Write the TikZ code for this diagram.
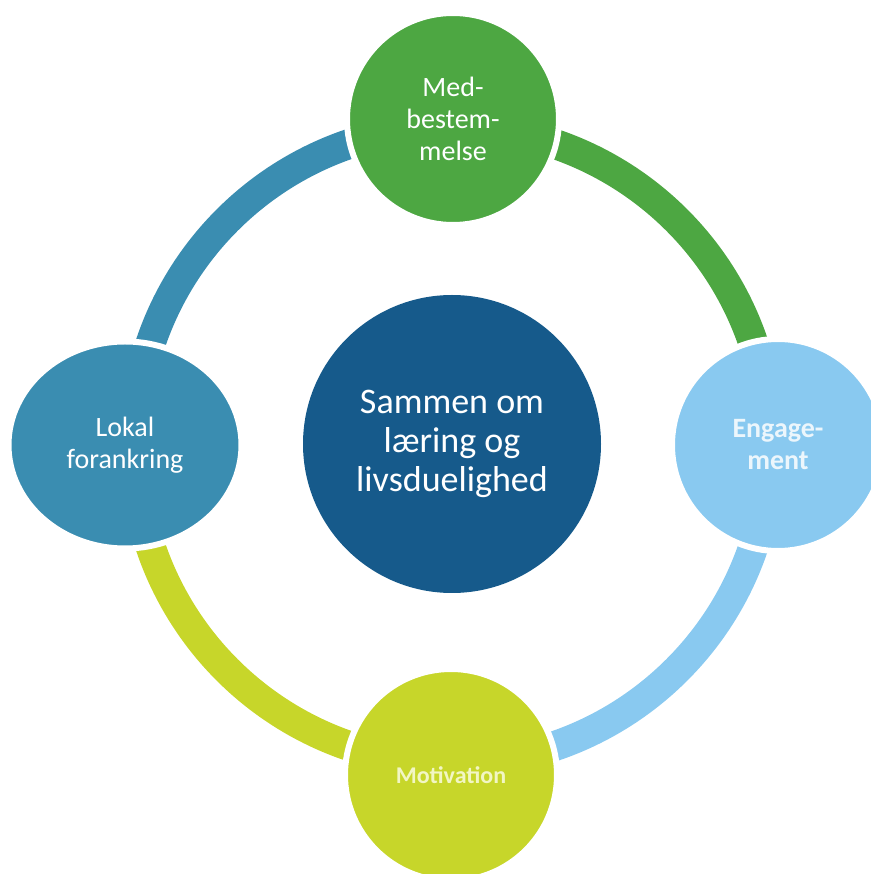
\documentclass[tikz,border=0pt]{standalone}
\usepackage{fontspec}
\setmainfont{Carlito}
\usetikzlibrary{shapes.geometric,backgrounds}
\definecolor{hubblue}{RGB}{22,90,139}
\definecolor{medgreen}{RGB}{77,167,66}
\definecolor{engblue}{RGB}{137,201,240}
\definecolor{engtext}{RGB}{236,246,252}
\definecolor{motyellow}{RGB}{199,214,42}
\definecolor{mottext}{RGB}{242,246,196}
\definecolor{lokteal}{RGB}{58,141,177}
\tikzset{
  petal/.style={circle, draw=white, line width=3pt, minimum size=106pt, inner sep=0pt,
    align=center, text=white, font=\fontsize{14}{16}\selectfont},
  ringarc/.style={line width=15pt},
}
\begin{document}
\begin{tikzpicture}[x=0.5pt,y=0.5pt]
  \useasboundingbox (0,0) rectangle (871,874);
  \coordinate (hub) at (452,429);
  \node[circle, fill=hubblue, minimum size=149pt, inner sep=0pt, align=center, text=white,
    font=\fontsize{18}{19.5}\selectfont] (core) at (452,430) {Sammen om\\læring og\\livsduelighed};
  \node[petal, fill=medgreen] (med) at (453,755) {Med-\\bestem-\\melse};
  \node[petal, fill=engblue, text=engtext, font=\fontsize{14}{16}\selectfont\bfseries] (eng) at (778,429) {Engage-\\ment};
  \node[petal, fill=motyellow, text=mottext, font=\fontsize{12}{14}\selectfont\bfseries] (mot) at (451,99) {Motivation};
  \node[petal, ellipse, minimum width=116.5pt, minimum height=103.5pt, fill=lokteal] (lok) at (125,429) {Lokal\\forankring};
  % ring segments behind the circles
  \begin{scope}[on background layer]
    \draw[ringarc, lokteal] (hub) ++(180:159pt) arc[start angle=180, end angle=90, radius=159pt];
    \draw[ringarc, medgreen] (hub) ++(90:159pt) arc[start angle=90, end angle=0, radius=159pt];
    \draw[ringarc, engblue] (hub) ++(0:159pt) arc[start angle=0, end angle=-90, radius=159pt];
    \draw[ringarc, motyellow] (hub) ++(-90:159pt) arc[start angle=-90, end angle=-180, radius=159pt];
  \end{scope}
\end{tikzpicture}
\end{document}
